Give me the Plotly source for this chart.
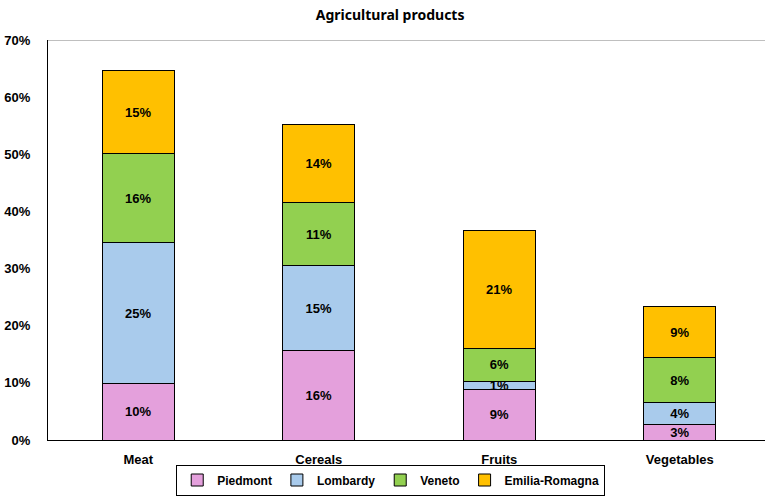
import plotly.graph_objects as go

categories = ["Meat", "Cereals", "Fruits", "Vegetables"]
piedmont = [0.099, 0.156, 0.089, 0.027]
lombardy = [0.246, 0.149, 0.014, 0.038]
veneto = [0.156, 0.110, 0.057, 0.079]
emilia = [0.146, 0.137, 0.206, 0.090]
tick_vals = [0, 0.1, 0.2, 0.3, 0.4, 0.5, 0.6, 0.7]

series = [
    ("Piedmont", piedmont, "#E4A0DC"),
    ("Lombardy", lombardy, "#A9CBEC"),
    ("Veneto", veneto, "#92D050"),
    ("Emilia-Romagna", emilia, "#FFC000"),
]

FONT = "Liberation Sans"
fig = go.Figure()
for name, vals, col in series:
    fig.add_trace(go.Bar(
        name=name, x=categories, y=vals,
        marker=dict(color=col, line=dict(color="black", width=1)),
        texttemplate="%{y:.0%}", textposition="inside", insidetextanchor="middle",
        textfont=dict(family=FONT, size=13, color="black", weight="bold"),
        constraintext="none", width=0.4,
    ))

fig.update_layout(
    barmode="stack",
    width=765, height=497,
    margin=dict(l=48, r=0, t=40, b=57, autoexpand=False),
    paper_bgcolor="white", plot_bgcolor="white",
    font=dict(family=FONT, size=13, color="black"),
    title=dict(text="<b>Agricultural products</b>", x=0.51, xanchor="center",
               y=0.97, yanchor="middle", font=dict(family="Noto Sans", size=14, color="black")),
    xaxis=dict(range=[-0.5, 3.472], showline=True, linecolor="black", linewidth=1,
               ticks="", ticklabelstandoff=7,
               tickfont=dict(family=FONT, size=13, weight="bold")),
    yaxis=dict(range=[0, 0.7], tickvals=tick_vals, tickformat=".0%", showgrid=False,
               zeroline=False, showline=True, linecolor="black", linewidth=1,
               ticks="outside", ticklen=0, ticklabelstandoff=14,
               tickfont=dict(family=FONT, size=13, weight="bold")),
    legend=dict(orientation="h", traceorder="normal",
                x=0.478, xanchor="center", yref="container", y=0.003, yanchor="bottom",
                bordercolor="black", borderwidth=1,
                font=dict(family=FONT, size=12, weight="bold"),
                itemwidth=30, tracegroupgap=0),
    showlegend=True,
)
fig.add_shape(type="line", xref="paper", yref="y", x0=0, x1=1, y0=0.7, y1=0.7,
              line=dict(color="#808080", width=1))
fig.write_html("out.html")
